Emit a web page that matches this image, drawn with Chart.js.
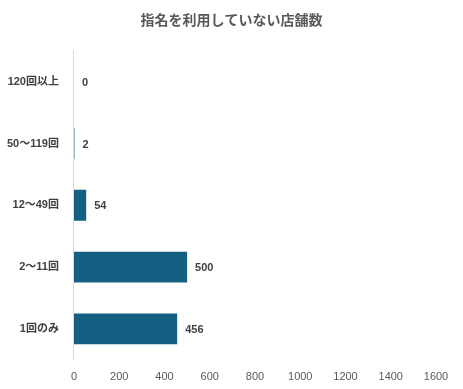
<!DOCTYPE html>
<html>
<head>
<meta charset="utf-8">
<script src="https://cdn.jsdelivr.net/npm/chart.js@4"></script>
<style>
  body { margin: 0; background: #fff; }
  #wrap { width: 463px; height: 389px; }
</style>
</head>
<body>
<div id="wrap"><canvas id="chart"></canvas></div>
<script>
const categories = ['120回以上', '50〜119回', '12〜49回', '2〜11回', '1回のみ'];
const shopCounts = [0, 2, 54, 500, 456];
const xTicks = [0, 200, 400, 600, 800, 1000, 1200, 1400, 1600];

const fontFamily = '"Liberation Sans", "Noto Sans CJK JP", sans-serif';

// value labels to the right of each bar
const valueLabels = {
    id: 'valueLabels',
    afterDatasetsDraw(chart) {
        const ctx = chart.ctx;
        const meta = chart.getDatasetMeta(0);
        ctx.save();
        ctx.font = 'bold 11px ' + fontFamily;
        ctx.fillStyle = '#404040';
        ctx.textBaseline = 'middle';
        ctx.textAlign = 'left';
        meta.data.forEach((bar, i) => {
            ctx.fillText(String(shopCounts[i]), bar.x + 8, bar.y + 1);
        });
        ctx.restore();
    }
};

new Chart(document.getElementById('chart'), {
    type: 'bar',
    data: {
        labels: categories,
        datasets: [{
            data: shopCounts,
            backgroundColor: '#156082',
            barPercentage: 0.5,
            categoryPercentage: 1.0
        }]
    },
    options: {
        indexAxis: 'y',
        responsive: true,
        maintainAspectRatio: false,
        animation: false,
        layout: { padding: { left: 0, right: 0, top: 0, bottom: 2 } },
        plugins: {
            legend: { display: false },
            tooltip: { enabled: false },
            title: {
                display: true,
                text: '指名を利用していない店舗数',
                color: '#595959',
                font: { family: fontFamily, size: 14, weight: 'bold' },
                padding: { top: 13, bottom: 21 }
            }
        },
        scales: {
            x: {
                min: 0,
                max: 1600,
                afterBuildTicks(axis) {
                    axis.ticks = xTicks.map(v => ({ value: v }));
                },
                grid: { display: false },
                border: { display: false },
                ticks: {
                    color: '#595959',
                    font: { family: fontFamily, size: 11 },
                    padding: 3,
                    callback: v => String(v)
                }
            },
            y: {
                grid: { display: false },
                border: { display: true, color: '#d9d9d9', width: 1 },
                ticks: {
                    color: '#404040',
                    font: { family: fontFamily, size: 11, weight: 'bold' },
                    padding: 7
                }
            },
            // empty right-hand space, keeps the title centred on the page
            yRight: {
                position: 'right',
                grid: { display: false },
                border: { display: false },
                ticks: { display: false },
                afterFit(scale) { scale.width = 27; }
            }
        }
    },
    plugins: [valueLabels]
});
</script>
</body>
</html>
